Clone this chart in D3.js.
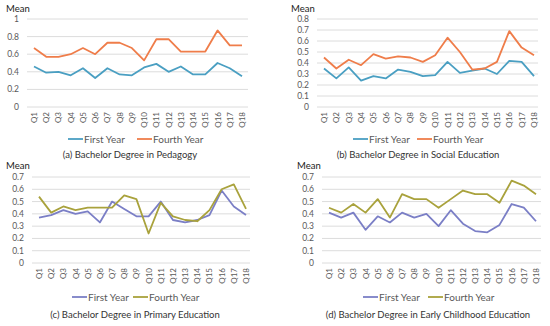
<!DOCTYPE html>
<html>
<head>
<meta charset="utf-8">
<script src="https://cdn.jsdelivr.net/npm/d3@7.9.0/dist/d3.min.js"></script>
<style>
  body { margin: 0; background: #fff; }
  svg { font-family: Lato, "Open Sans", sans-serif; }
</style>
</head>
<body>
<svg width="550" height="326"></svg>
<script>
// question labels
const questions = d3.range(1, 19).map(i => 'Q' + i);

// (a) Pedagogy
const pedFirst = [0.46, 0.39, 0.40, 0.36, 0.44, 0.33, 0.44, 0.37, 0.36, 0.45, 0.49, 0.40, 0.46, 0.37, 0.37, 0.50, 0.44, 0.35];
const pedFourth = [0.67, 0.57, 0.57, 0.60, 0.67, 0.60, 0.73, 0.73, 0.67, 0.53, 0.77, 0.77, 0.63, 0.63, 0.63, 0.87, 0.70, 0.70];
const pedTicks = [0, 0.2, 0.4, 0.6, 0.8, 1];

// (b) Social Education
const socFirst = [0.35, 0.26, 0.36, 0.24, 0.28, 0.26, 0.34, 0.32, 0.28, 0.29, 0.41, 0.31, 0.33, 0.35, 0.30, 0.42, 0.41, 0.28];
const socFourth = [0.45, 0.35, 0.43, 0.38, 0.48, 0.44, 0.46, 0.45, 0.41, 0.47, 0.63, 0.50, 0.34, 0.35, 0.41, 0.69, 0.54, 0.47];
const socTicks = [0, 0.1, 0.2, 0.3, 0.4, 0.5, 0.6, 0.7, 0.8];

// (c) Primary Education
const priFirst = [0.37, 0.39, 0.43, 0.40, 0.42, 0.33, 0.50, 0.44, 0.38, 0.38, 0.50, 0.35, 0.33, 0.35, 0.39, 0.59, 0.46, 0.39];
const priFourth = [0.54, 0.41, 0.46, 0.43, 0.45, 0.45, 0.45, 0.55, 0.52, 0.24, 0.49, 0.38, 0.35, 0.34, 0.43, 0.60, 0.64, 0.44];
const priTicks = [0, 0.1, 0.2, 0.3, 0.4, 0.5, 0.6, 0.7];

// (d) Early Childhood Education
const earFirst = [0.41, 0.37, 0.41, 0.27, 0.38, 0.33, 0.41, 0.37, 0.40, 0.30, 0.43, 0.32, 0.26, 0.25, 0.31, 0.48, 0.45, 0.34];
const earFourth = [0.45, 0.41, 0.48, 0.41, 0.52, 0.37, 0.56, 0.52, 0.52, 0.45, 0.52, 0.59, 0.56, 0.56, 0.49, 0.67, 0.63, 0.56];
const earTicks = [0, 0.1, 0.2, 0.3, 0.4, 0.5, 0.6, 0.7];

const seriesNames = ['First Year', 'Fourth Year'];

const panels = [
  { title: '(a) Bachelor Degree in Pedagogy', first: pedFirst, fourth: pedFourth, ticks: pedTicks,
    fmt: d => d === 0 || d === 1 ? String(d) : d3.format('.1f')(d),
    colors: ['#4a9fc2', '#ef7d4a'],
    mean: [6, 12], tickX: 19, x0: 34, x1: 242, g0: 27, g1: 248, yTop: 19, yBot: 107,
    qY: 112, legY: 139, leg: [68, 137], titleX: 130, titleY: 158 },
  { title: '(b) Bachelor Degree in Social Education', first: socFirst, fourth: socFourth, ticks: socTicks,
    fmt: d => d === 0 ? '0' : d3.format('.1f')(d),
    colors: ['#4a9fc2', '#ef7d4a'],
    mean: [291, 12], tickX: 309, x0: 324, x1: 534, g0: 317, g1: 538, yTop: 19, yBot: 107,
    qY: 112, legY: 139, leg: [353, 417], titleX: 418, titleY: 158 },
  { title: '(c) Bachelor Degree in Primary Education', first: priFirst, fourth: priFourth, ticks: priTicks,
    fmt: d => d === 0 ? '0' : d3.format('.1f')(d),
    colors: ['#7b7fc6', '#a9a23c'],
    mean: [6, 169], tickX: 24, x0: 39, x1: 246, g0: 32, g1: 250, yTop: 177, yBot: 263,
    qY: 268, legY: 297, leg: [72, 133], titleX: 135, titleY: 318 },
  { title: '(d) Bachelor Degree in Early Childhood Education', first: earFirst, fourth: earFourth, ticks: earTicks,
    fmt: d => d === 0 ? '0' : d3.format('.1f')(d),
    colors: ['#7b7fc6', '#a9a23c'],
    mean: [297, 169], tickX: 314, x0: 329, x1: 536, g0: 322, g1: 541, yTop: 177, yBot: 263,
    qY: 268, legY: 297, leg: [363, 428], titleX: 428, titleY: 318 }
];

const svg = d3.select('svg');

panels.forEach(p => {
  const g = svg.append('g');
  const x = d3.scalePoint().domain(questions).range([p.x0, p.x1]);
  const y = d3.scaleLinear().domain([0, d3.max(p.ticks)]).range([p.yBot, p.yTop]);

  // gridlines
  g.selectAll('line.grid').data(p.ticks).join('line')
    .attr('x1', p.g0).attr('x2', p.g1)
    .attr('y1', d => y(d)).attr('y2', d => y(d))
    .attr('stroke', '#dcdcdc').attr('stroke-width', 1);

  // y tick labels
  g.selectAll('text.yt').data(p.ticks).join('text')
    .attr('x', p.tickX).attr('y', d => y(d) + 3)
    .attr('text-anchor', 'end')
    .attr('font-size', 8.5).attr('fill', '#595959')
    .text(p.fmt);

  g.append('text').attr('x', p.mean[0]).attr('y', p.mean[1])
    .attr('font-size', 9.5).attr('fill', '#222').text('Mean');

  // x tick labels, rotated
  g.selectAll('text.xt').data(questions).join('text')
    .attr('transform', d => `translate(${x(d) + 3},${p.qY}) rotate(-90)`)
    .attr('text-anchor', 'end')
    .attr('font-size', 8).attr('fill', '#595959')
    .text(d => d);

  const line = d3.line().x((d, i) => x(questions[i])).y(d => y(d));
  [p.first, p.fourth].forEach((vals, k) => {
    g.append('path').attr('d', line(vals))
      .attr('fill', 'none').attr('stroke', p.colors[k])
      .attr('stroke-width', 1.8).attr('stroke-linejoin', 'round');
  });

  // legend
  seriesNames.forEach((name, k) => {
    const lx = p.leg[k];
    g.append('line').attr('x1', lx).attr('x2', lx + 15)
      .attr('y1', p.legY).attr('y2', p.legY)
      .attr('stroke', p.colors[k]).attr('stroke-width', 1.8);
    g.append('text').attr('x', lx + 16).attr('y', p.legY + 3.5)
      .attr('font-size', 10).attr('fill', '#595959').text(name);
  });

  g.append('text').attr('x', p.titleX).attr('y', p.titleY)
    .attr('text-anchor', 'middle').attr('font-size', 9.5).attr('fill', '#333')
    .text(p.title);
});
</script>
</body>
</html>
